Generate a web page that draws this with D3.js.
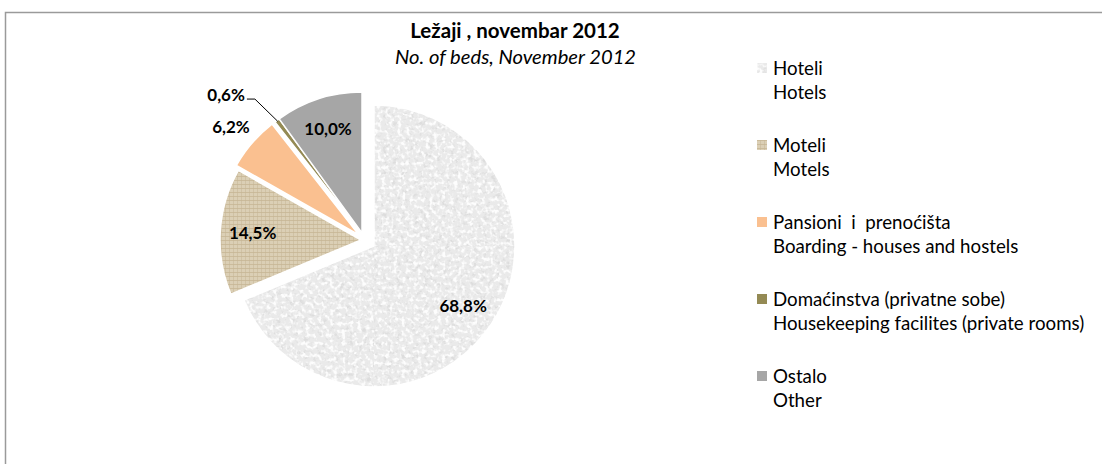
<!DOCTYPE html>
<html>
<head>
<meta charset="utf-8">
<script src="https://cdn.jsdelivr.net/npm/d3@7"></script>
<style>
  html, body { margin: 0; padding: 0; background: #fff; }
  svg text { font-family: Lato, "Open Sans", sans-serif; }
</style>
</head>
<body>
<svg id="chart" width="1102" height="464"></svg>
<script>
// ---- data ----
const categories = ["Hoteli", "Moteli", "Pansioni  i  prenoćišta", "Domaćinstva (privatne sobe)", "Ostalo"];
const categoriesEn = ["Hotels", "Motels", "Boarding - houses and hostels", "Housekeeping facilites (private rooms)", "Other"];
const values = [68.8, 14.5, 6.2, 0.6, 10.0];
const valueLabels = ["68,8%", "14,5%", "6,2%", "0,6%", "10,0%"];
const titleText = "Ležaji , novembar 2012";
const subtitleText = "No. of beds, November 2012";

// ---- styles ----
const fills = ["url(#hotelTex)", "url(#burlap)", "#FAC090", "#948A54", "#A6A6A6"];
const legendFills = ["url(#hotelTex)", "url(#burlap)", "#FAC090", "#948A54", "#A6A6A6"];
const explode = [[12, 13], [-1, 7], [-3, 2], [0, 0], [0, 0]];

const svg = d3.select("#chart");
const defs = svg.append("defs");

// hotel speckled texture
const W = 320;
const hp = defs.append("pattern").attr("id", "hotelTex").attr("patternUnits", "userSpaceOnUse")
  .attr("width", W).attr("height", W);
hp.append("rect").attr("width", W).attr("height", W).attr("fill", "#eaeaea");
function speckle(id, seed, freq, grey, aMul, aOff) {
  const f = defs.append("filter").attr("id", id).attr("filterUnits", "userSpaceOnUse")
    .attr("x", 0).attr("y", 0).attr("width", W).attr("height", W);
  f.append("feTurbulence").attr("type", "fractalNoise").attr("baseFrequency", freq)
    .attr("numOctaves", 3).attr("seed", seed).attr("result", "t");
  f.append("feColorMatrix").attr("in", "t").attr("type", "matrix")
    .attr("values", `0 0 0 0 ${grey}  0 0 0 0 ${grey}  0 0 0 0 ${grey}  ${aMul} 0 0 0 ${aOff}`);
  hp.append("rect").attr("width", W).attr("height", W).attr("filter", `url(#${id})`);
}
speckle("spkDark", 7, 0.22, 0.72, 4.0, -2.1);
speckle("spkLight", 23, 0.25, 0.98, 4.0, -1.9);

// burlap texture
const bp = defs.append("pattern").attr("id", "burlap").attr("patternUnits", "userSpaceOnUse")
  .attr("width", 4).attr("height", 4);
bp.append("rect").attr("width", 4).attr("height", 4).attr("fill", "#dbcfb5");
bp.append("rect").attr("x", 0).attr("y", 0).attr("width", 4).attr("height", 1).attr("fill", "#bfae8b").attr("opacity", 0.6);
bp.append("rect").attr("x", 0).attr("y", 0).attr("width", 1).attr("height", 4).attr("fill", "#c5b696").attr("opacity", 0.5);

// border
svg.append("rect").attr("x", 5.5).attr("y", 12.5).attr("width", 1200).attr("height", 600)
  .attr("fill", "none").attr("stroke", "#9a9a9a").attr("stroke-width", 1.5);

// title
svg.append("text").attr("x", 515).attr("y", 37.5).attr("text-anchor", "middle")
  .attr("font-size", 20.5).attr("font-weight", "bold").attr("fill", "#000").text(titleText);
svg.append("text").attr("x", 515.5).attr("y", 63.5).attr("text-anchor", "middle")
  .attr("font-size", 20.2).attr("font-style", "italic").attr("fill", "#000").text(subtitleText);

// pie
const cx = 362, cy = 233, r = 141;
const pie = d3.pie().sort(null).value(d => d);
const arcs = pie(values);
const arc = d3.arc().innerRadius(0).outerRadius(r);
const g = svg.append("g").attr("transform", `translate(${cx},${cy})`);

g.selectAll("path.slice").data(arcs).enter().append("path")
  .attr("class", "slice")
  .attr("transform", (d, i) => `translate(${explode[i][0]},${explode[i][1]})`)
  .attr("d", arc)
  .attr("fill", (d, i) => fills[i])
  .attr("stroke", "#fff").attr("stroke-width", 1.5);

// labels
const labelR = [0.76, 0.77, 1.17, 1.19, 0.78];
const labelDx = [0, 0, -3, -6, 0];
const labelSize = 17;
arcs.forEach((d, i) => {
  const la = d3.arc().innerRadius(r * labelR[i]).outerRadius(r * labelR[i]);
  const [lx, ly] = la.centroid(d);
  const ox = explode[i][0], oy = explode[i][1];
  if (i === 3) {
    const outer = d3.arc().innerRadius(r - 1).outerRadius(r - 1).centroid(d);
    const ex = lx + labelDx[i], ey = ly;
    g.append("polyline")
      .attr("points", `${outer[0] + ox},${outer[1] + oy} ${ex},${ey} ${ex - 8},${ey}`)
      .attr("fill", "none").attr("stroke", "#000").attr("stroke-width", 1);
    g.append("text").attr("x", ex - 10).attr("y", ey + 2).attr("text-anchor", "end")
      .attr("font-size", labelSize).attr("font-weight", "bold").text(valueLabels[i]);
  } else {
    g.append("text").attr("x", lx + ox + labelDx[i]).attr("y", ly + oy)
      .attr("dy", "0.36em").attr("text-anchor", "middle")
      .attr("font-size", labelSize).attr("font-weight", "bold").text(valueLabels[i]);
  }
});

// legend
const lg = svg.append("g");
categories.forEach((c, i) => {
  const by = 75 + 77 * i;
  lg.append("rect").attr("x", 757).attr("y", by - 12).attr("width", 10).attr("height", 10)
    .attr("fill", legendFills[i]);
  lg.append("text").attr("x", 773).attr("y", by).attr("font-size", 18.7)
    .style("white-space", "pre").text(c);
  lg.append("text").attr("x", 773).attr("y", by + 24).attr("font-size", 18.7)
    .style("white-space", "pre").text(categoriesEn[i]);
});
</script>
</body>
</html>
